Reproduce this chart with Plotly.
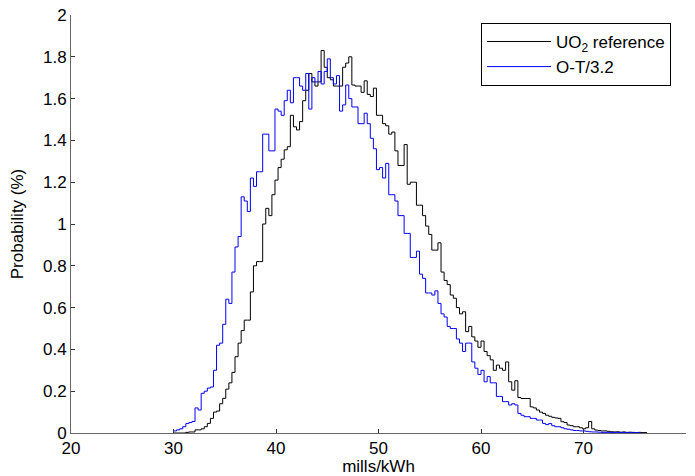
import plotly.graph_objects as go

# Histogram bins (mills/kWh): bins start at 30.0 with width 0.3
bin_start = 30.0
bin_width = 0.3

# O-T/3.2 probabilities (%) per bin
ot_values = [
    0.01, 0.015, 0.02, 0.03, 0.045, 0.05, 0.055,
    0.12, 0.11, 0.19, 0.20, 0.215, 0.22,
    0.30, 0.42, 0.43, 0.52, 0.64, 0.62, 0.77,
    0.89, 0.94, 1.13, 1.11, 1.06, 1.22, 1.18, 1.25,
    1.25, 1.43, 1.43, 1.35, 1.35, 1.55, 1.54, 1.52, 1.59, 1.64, 1.58,
    1.70, 1.70, 1.66, 1.64, 1.72, 1.55, 1.70, 1.68, 1.73, 1.67, 1.73, 1.79, 1.70, 1.67, 1.71,
    1.54, 1.57, 1.665, 1.60, 1.56, 1.56, 1.48, 1.48, 1.53, 1.48, 1.41, 1.36, 1.26, 1.27, 1.22, 1.29,
    1.14, 1.14, 1.11, 1.04, 1.04, 0.955, 0.955, 0.84, 0.84, 0.87, 0.76, 0.74, 0.67, 0.67, 0.66, 0.68,
    0.62, 0.57, 0.555, 0.51, 0.50, 0.50, 0.45, 0.43, 0.39, 0.43, 0.43, 0.34, 0.31, 0.28, 0.30, 0.245, 0.27, 0.24, 0.24,
    0.175, 0.175, 0.15, 0.15, 0.134, 0.14, 0.134, 0.094, 0.085, 0.078, 0.078, 0.07, 0.07, 0.062, 0.062,
    0.046, 0.04, 0.045, 0.035, 0.03, 0.03, 0.025, 0.02, 0.018, 0.015, 0.012, 0.012, 0.01, 0.01, 0.008, 0.006, 0.005, 0.005, 0.004, 0.003, 0.003,
    0.003, 0.002, 0.003, 0.002, 0.002, 0.003, 0.002, 0.002, 0.001, 0.002, 0.001,
]

# UO2 reference probabilities (%) per bin
uo2_values = [
    0, 0, 0, 0, 0.003, 0.005, 0.005,
    0.015, 0.015, 0.02, 0.03, 0.046, 0.07,
    0.10, 0.105, 0.14, 0.166, 0.21, 0.24, 0.29,
    0.365, 0.43, 0.49, 0.54, 0.54, 0.675, 0.80, 0.82,
    0.82, 1.00, 1.075, 1.04, 1.14, 1.21, 1.27, 1.31, 1.355, 1.37, 1.52,
    1.465, 1.45, 1.49, 1.59, 1.64, 1.72, 1.68, 1.66, 1.68, 1.83, 1.75, 1.70, 1.69, 1.66, 1.66,
    1.66, 1.75, 1.77, 1.80, 1.665, 1.66, 1.66, 1.63, 1.685, 1.62, 1.61, 1.65, 1.52, 1.52, 1.48, 1.47,
    1.43, 1.44, 1.35, 1.28, 1.28, 1.38, 1.19, 1.20, 1.20, 1.09, 1.09, 1.04, 0.99, 0.95, 0.875, 0.875,
    0.91, 0.77, 0.73, 0.71, 0.66, 0.645, 0.60, 0.57, 0.58, 0.485, 0.51, 0.46, 0.44, 0.41, 0.44, 0.39, 0.37, 0.35, 0.30,
    0.325, 0.31, 0.30, 0.34, 0.245, 0.205, 0.25, 0.17, 0.165, 0.165, 0.165, 0.125, 0.12, 0.11, 0.10,
    0.094, 0.085, 0.08, 0.075, 0.072, 0.07, 0.054, 0.05, 0.038, 0.035, 0.03, 0.03, 0.025, 0.02, 0.025, 0.055, 0.02, 0.014, 0.012, 0.01, 0.01,
    0.008, 0.006, 0.005, 0.006, 0.004, 0.005, 0.003, 0.004, 0.003, 0.002, 0.003, 0.002, 0.002,
]

x_ticks = [20, 30, 40, 50, 60, 70, 80]
y_ticks = [0, 0.2, 0.4, 0.6, 0.8, 1, 1.2, 1.4, 1.6, 1.8, 2]


def stairs(values):
    xs = [round(bin_start + bin_width * i, 4) for i in range(len(values) + 1)]
    ys = list(values) + [values[-1]]
    return xs, ys


FONT = "Liberation Sans, Arial, Helvetica, sans-serif"

fig = go.Figure()
ux, uy = stairs(uo2_values)
fig.add_trace(go.Scatter(x=ux, y=uy, mode="lines", line=dict(color="black", width=1, shape="hv"),
                         name="UO<sub>2</sub> reference", legendgroup="a"))
ox, oy = stairs(ot_values)
fig.add_trace(go.Scatter(x=ox, y=oy, mode="lines", line=dict(color="#0000ff", width=1, shape="hv"),
                         name="O-T/3.2", legendgroup="b"))

fig.update_layout(
    width=695, height=476,
    margin=dict(l=71, r=9, t=15, b=43, autoexpand=False),
    paper_bgcolor="white", plot_bgcolor="white",
    font=dict(family=FONT, size=17, color="black"),
    showlegend=True,
    legend=dict(x=0.6667, y=0.981, xanchor="left", yanchor="top",
                bgcolor="white", bordercolor="black", borderwidth=1,
                font=dict(size=17), itemwidth=64, tracegroupgap=0),
)
fig.update_xaxes(range=[20, 80], tickvals=x_ticks, ticks="inside", ticklen=4,
                 tickcolor="#333", showline=True, linecolor="#666", linewidth=1,
                 showgrid=False, zeroline=False, tickfont=dict(size=17), automargin=False,
                 title=dict(text="mills/kWh", font=dict(size=17), standoff=0))
fig.update_yaxes(range=[0, 2], tickvals=y_ticks, ticks="inside", ticklen=4,
                 tickcolor="#333", showline=True, linecolor="#666", linewidth=1,
                 showgrid=False, zeroline=False, tickfont=dict(size=17), automargin=False,
                 title=dict(text="Probability (%)", font=dict(size=17), standoff=15))

fig.write_html("out.html", config={"displayModeBar": False},
               post_script="document.body.style.margin='0';document.body.style.padding='0';")
